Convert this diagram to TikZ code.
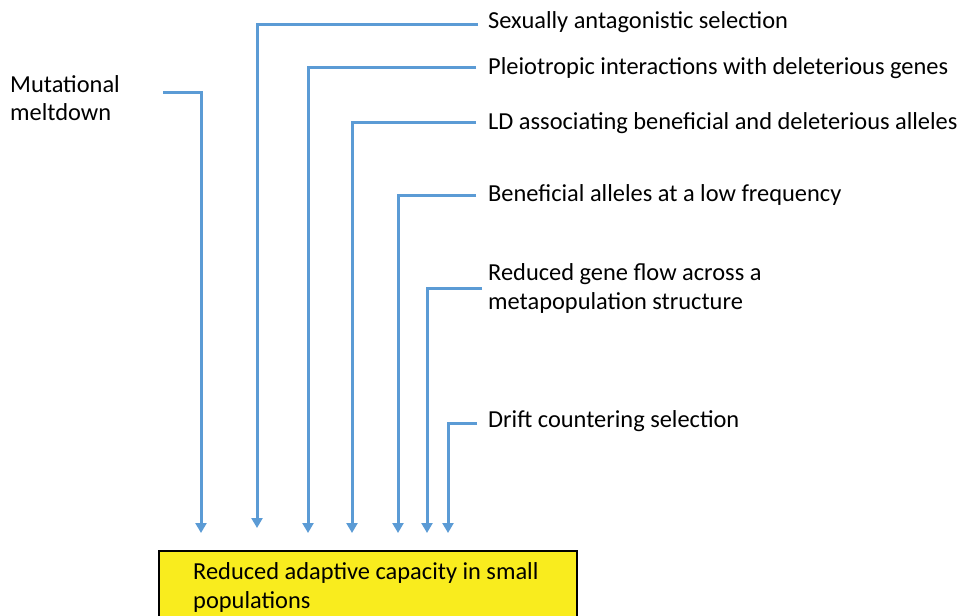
\documentclass[tikz,border=0pt]{standalone}
\usepackage{fontspec}
\setmainfont{Carlito}
\usetikzlibrary{arrows.meta}
\definecolor{lineblue}{HTML}{5B9BD5}
\definecolor{boxyellow}{HTML}{F9EC1E}
\tikzset{
  lbl/.style={anchor=base west, inner sep=0pt, align=left, font=\fontsize{24.5}{29}\selectfont},
  conn/.style={draw=lineblue, line width=3bp, -{Triangle[length=10bp,width=11bp]}},
}
\begin{document}
\begin{tikzpicture}[x=1bp,y=-1bp]
\useasboundingbox (0,0) rectangle (963,616);
% result box
\path[draw=black, line width=1.2bp, fill=boxyellow] (159,551) rectangle (577,620);
\node[lbl] (res) at (193,608) {Reduced adaptive capacity in small\\populations};
% labels
\node[lbl] (mut) at (10,121) {Mutational\\meltdown};
\node[lbl] (sex) at (488,29) {Sexually antagonistic selection};
\node[lbl] (ple) at (488,75) {Pleiotropic interactions with deleterious genes};
\node[lbl] (ld) at (488,130) {LD associating beneficial and deleterious alleles};
\node[lbl] (ben) at (488,202) {Beneficial alleles at a low frequency};
\node[lbl] (gene) at (488,309) {Reduced gene flow across a\\metapopulation structure};
\node[lbl] (drift) at (488,427) {Drift countering selection};
% connector start points
\coordinate (smut) at (163,93);
\coordinate (ssex) at (478,25);
\coordinate (sple) at (476,68);
\coordinate (sld) at (476,123);
\coordinate (sben) at (476,196);
\coordinate (sgene) at (482,288);
\coordinate (sdrift) at (477,423);
% connector end points
\coordinate (emut) at (201,533);
\coordinate (esex) at (257,528);
\coordinate (eple) at (308,533);
\coordinate (eld) at (352,533);
\coordinate (eben) at (398,533);
\coordinate (egene) at (427,533);
\coordinate (edrift) at (448,533);
\draw[conn] (smut) -| (emut);
\draw[conn] (ssex) -| (esex);
\draw[conn] (sple) -| (eple);
\draw[conn] (sld) -| (eld);
\draw[conn] (sben) -| (eben);
\draw[conn] (sgene) -| (egene);
\draw[conn] (sdrift) -| (edrift);
\end{tikzpicture}
\end{document}
